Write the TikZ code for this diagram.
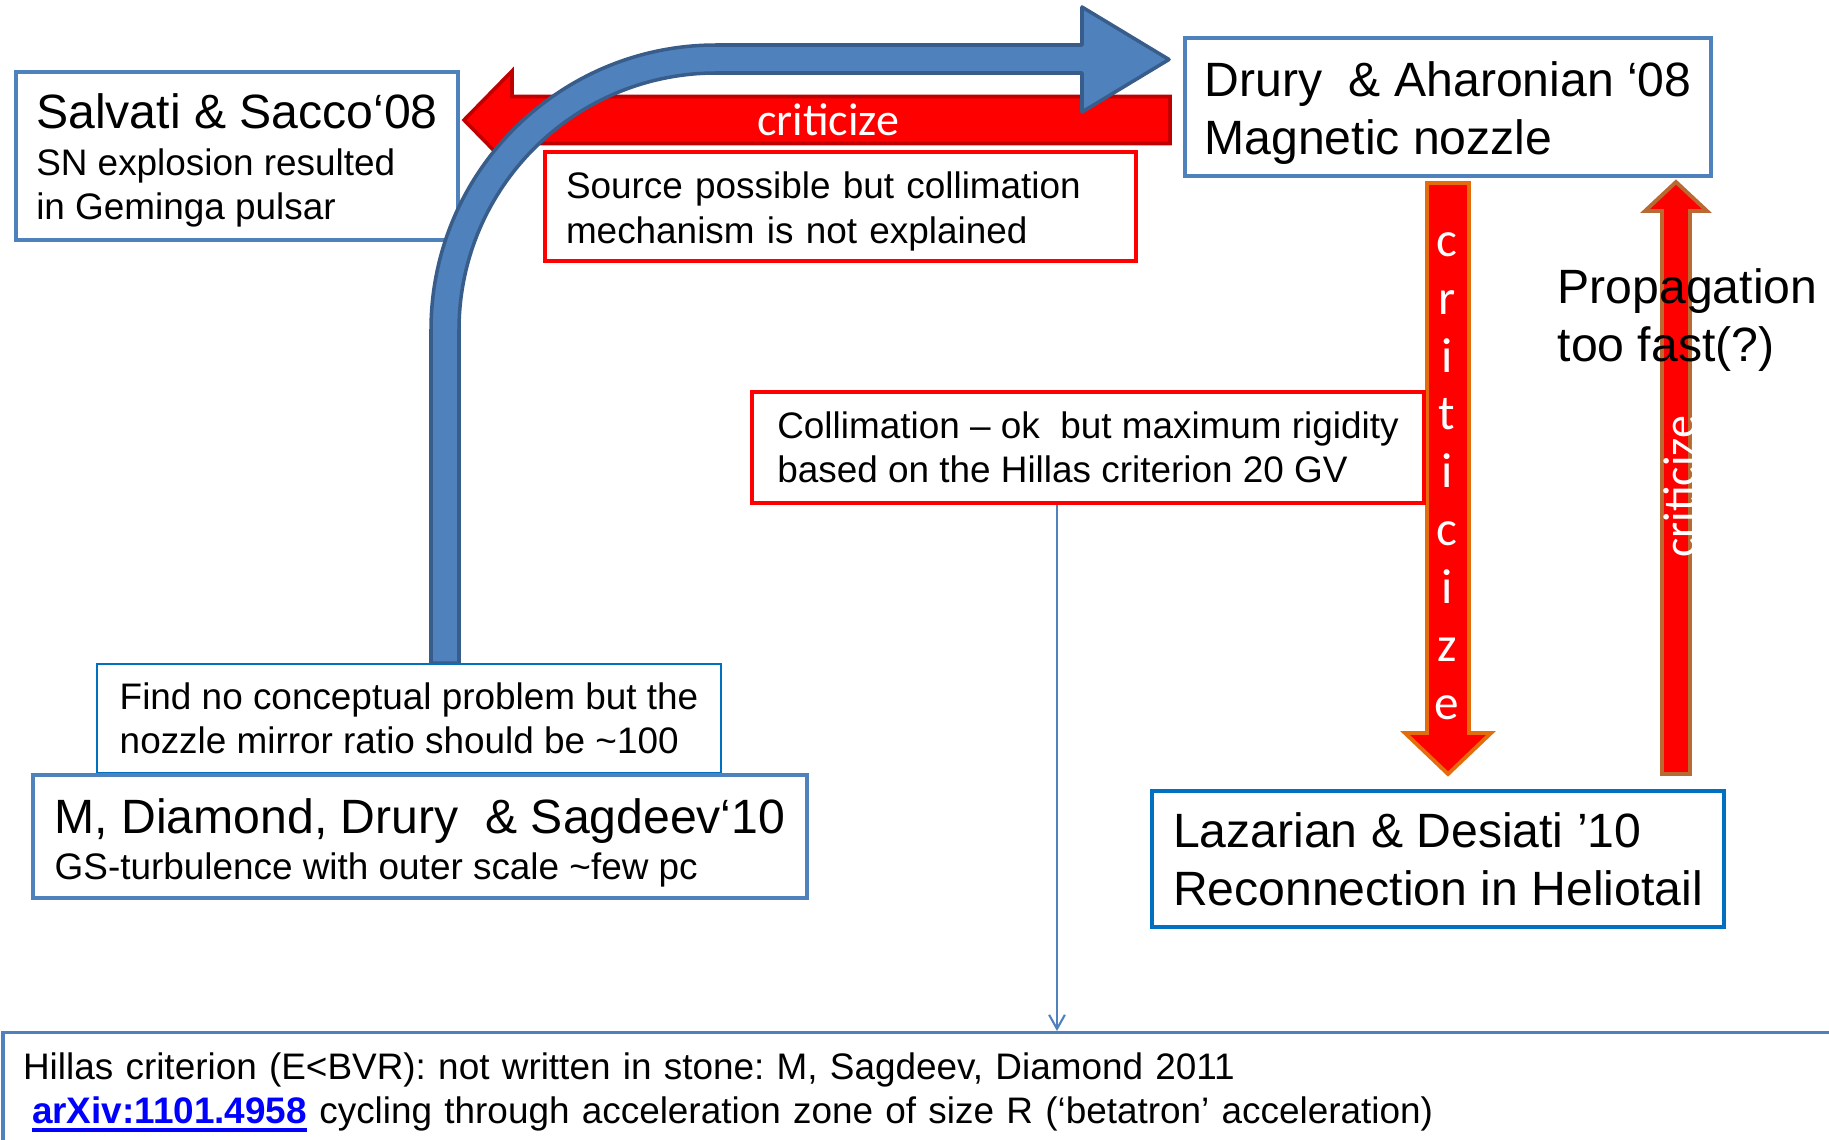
\documentclass[tikz,border=0pt]{standalone}
\usepackage{fontspec}
\setmainfont{Liberation Sans}
\newfontfamily\calfont{Carlito}
\frenchspacing
\newsavebox{\lnkbox}
\newcommand{\lnkline}[1]{\sbox{\lnkbox}{#1}\rlap{\rule[-2.4pt]{\wd\lnkbox}{1.1pt}}\usebox{\lnkbox}}
\newcommand{\lift}[1]{\rule{0pt}{#1}}
\usetikzlibrary{arrows.meta, positioning, calc}
\definecolor{figblue}{RGB}{79,129,189}
\definecolor{figblueD}{RGB}{56,93,138}
\definecolor{figsky}{RGB}{0,112,192}
\definecolor{figred}{RGB}{255,0,0}
\definecolor{figredD}{RGB}{192,0,0}
\definecolor{figorange}{RGB}{228,108,10}
\definecolor{figbrown}{RGB}{184,106,50}
\definecolor{figlink}{RGB}{0,0,255}
\newcommand{\bigsz}{\fontsize{13.7}{16.5}\selectfont}
\newcommand{\subsz}{\fontsize{10.5}{12.6}\selectfont}
\tikzset{
  bxB/.style 2 args={draw=figblue, fill=white, line width=0.9pt,
              minimum width=#1, minimum height=#2, align=left, inner sep=0pt},
  bxS/.style 2 args={draw=figsky, fill=white, line width=0.9pt,
              minimum width=#1, minimum height=#2, align=left, inner sep=0pt},
  bxR/.style 2 args={draw=figred, fill=white, line width=1pt,
              minimum width=#1, minimum height=#2, align=left, inner sep=0pt},
  crit/.style={text=white, inner sep=0pt, font=\calfont\fontsize{13.1}{15}\selectfont},
  thinarr/.style={figblue, line width=0.6pt, -{Straight Barb[length=4pt, width=4.5pt]}},
}

\begin{document}
\begin{tikzpicture}
  \useasboundingbox (0,0) rectangle (18.29,-11.40);

  % ─── criticize: Drury -> Salvati ───────────────────────────────────
  \draw[figredD, fill=figred, line width=1pt]
    (11.70,-0.965) -- (5.12,-0.965) -- (5.12,-0.71) -- (4.64,-1.20)
    -- (5.12,-1.69) -- (5.12,-1.435) -- (11.70,-1.435) -- cycle;
  \node[crit] (crit1) at (8.28,-1.20) {criticize};

  \node[bxR={5.91cm}{1.09cm}, text width=5.49cm, inner xsep=0.21cm, font=\subsz]
    (srcbox) at (8.405,-2.065)
    {\lift{10.4pt}Source possible but collimation\\mechanism is not explained};

  % Salvati & Sacco
  \node[bxB={4.42cm}{1.68cm}, font=\subsz] (salvati) at (2.37,-1.56)
    {{\bigsz\lift{12.3pt}Salvati \& Sacco‘08}\\[0.8pt]SN explosion resulted\\in Geminga pulsar};

  % Drury & Aharonian
  \node[bxB={5.26cm}{1.38cm}, font=\bigsz] (drury) at (14.48,-1.07)
    {\lift{13.4pt}Drury\ \ \& Aharonian ‘08\\Magnetic nozzle};

  % ─── big blue arrow: M,D,D&S -> Drury ──────────────────────────────
  \draw[figblueD, fill=figblue, line width=1pt, line join=round]
    (4.31,-6.63) -- (4.31,-3.30) arc[start angle=180, end angle=90, radius=2.85]
    -- (10.82,-0.45) -- (10.82,-0.07) -- (11.69,-0.595) -- (10.82,-1.12)
    -- (10.82,-0.73) -- (7.16,-0.73) arc[start angle=90, end angle=180, radius=2.57]
    -- (4.59,-6.63) -- cycle;

  % Find no conceptual problem / M, Diamond, Drury & Sagdeev
  \node[bxS={6.24cm}{1.09cm}, line width=0.6pt, font=\subsz] (findbox) at (4.09,-7.185)
    {Find no conceptual problem but the\\nozzle mirror ratio should be \textasciitilde100};
  \node[bxB={7.74cm}{1.23cm}, font=\subsz] (mdds) at (4.20,-8.365)
    {{\bigsz\lift{13.4pt}M, Diamond, Drury\ \ \& Sagdeev‘10}\\[0.5pt]GS-turbulence with outer scale \textasciitilde few pc};

  % ─── criticize: Drury -> Lazarian ──────────────────────────────────
  \draw[figorange, fill=figred, line width=1.1pt]
    (14.27,-1.83) -- (14.69,-1.83) -- (14.69,-7.33) -- (14.91,-7.33)
    -- (14.48,-7.74) -- (14.05,-7.33) -- (14.27,-7.33) -- cycle;
  \node[crit, font=\calfont\fontsize{14}{16.45}\selectfont, align=center]
    (crit2) at (14.47,-4.76) {c\\r\\i\\t\\i\\c\\i\\z\\e};

  \node[bxR={6.72cm}{1.11cm}, line width=1.1pt, font=\subsz] (colbox) at (10.88,-4.475)
    {Collimation -- ok\ \ but maximum rigidity\\based on the Hillas criterion 20 GV};

  % ─── criticize: Lazarian -> Drury ──────────────────────────────────
  \draw[figbrown, fill=figred, line width=1.1pt]
    (16.62,-7.74) -- (16.62,-2.11) -- (16.45,-2.11) -- (16.76,-1.82)
    -- (17.07,-2.11) -- (16.90,-2.11) -- (16.90,-7.74) -- cycle;
  \node[crit, rotate=90] (crit3) at (16.80,-4.87) {criticize};
  \node[font=\bigsz, align=left, anchor=north west, inner sep=0pt]
    (prop) at (15.57,-2.676) {Propagation\\too fast(?)};

  \node[bxS={5.72cm}{1.36cm}, font=\bigsz] (lazar) at (14.38,-8.59)
    {Lazarian \& Desiati ’10\\Reconnection in Heliotail};

  % ─── Hillas criterion note ─────────────────────────────────────────
  \node[bxB={18.5cm}{1.19cm}, anchor=north west, text width=18.1cm, inner xsep=0.2cm,
        font=\subsz] (hillas) at (0.015,-10.31)
    {Hillas criterion (E<BVR): not written in stone: M, Sagdeev, Diamond 2011\\
     \hspace*{0.09cm}{\bfseries\color{figlink}\lnkline{arXiv:1101.4958}} cycling through acceleration zone of size R (‘betatron’ acceleration)};

  \coordinate (hx) at (10.57,0);
  \draw[thinarr] (colbox.south -| hx) -- (hillas.north -| hx);

\end{tikzpicture}
\end{document}
